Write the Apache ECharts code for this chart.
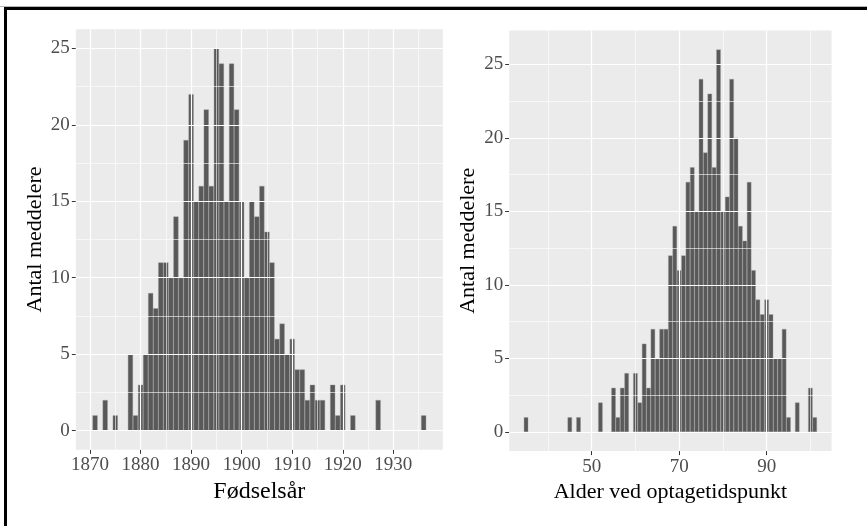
<!DOCTYPE html>
<html><head><meta charset="utf-8">
<script src="https://cdn.jsdelivr.net/npm/echarts@6/dist/echarts.min.js"></script>
<style>html,body{margin:0;padding:0;background:#fff}#c{width:867px;height:526px}</style>
</head><body><div id="c"></div>
<script>
// ---- data ----
const birthYears = [1871,1872,1873,1874,1875,1876,1877,1878,1879,1880,1881,1882,1883,1884,1885,1886,1887,1888,1889,1890,
  1891,1892,1893,1894,1895,1896,1897,1898,1899,1900,1901,1902,1903,1904,1905,1906,1907,1908,1909,1910,
  1911,1912,1913,1914,1915,1916,1917,1918,1919,1920,1921,1922,1923,1924,1925,1926,1927,1928,1929,1930,
  1931,1932,1933,1934,1935,1936];
const birthCounts = [1,0,2,0,1,0,0,5,1,3,5,9,8,11,11,10,14,10,19,22,
  15,16,21,16,25,24,15,24,21,15,10,15,14,16,13,11,6,7,5,6,
  4,4,2,3,2,2,0,3,1,3,0,1,0,0,0,0,2,0,0,0,
  0,0,0,0,0,1];
const ages = [35,36,37,38,39,40,41,42,43,44,45,46,47,48,49,50,51,52,53,54,
  55,56,57,58,59,60,61,62,63,64,65,66,67,68,69,70,71,72,73,74,
  75,76,77,78,79,80,81,82,83,84,85,86,87,88,89,90,91,92,93,94,
  95,96,97,98,99,100,101];
const ageCounts = [1,0,0,0,0,0,0,0,0,0,1,0,1,0,0,0,0,2,0,0,
  3,1,3,4,0,4,2,6,3,7,5,7,7,12,14,11,12,17,18,15,
  24,19,23,18,26,15,16,24,20,14,13,17,11,9,8,9,8,5,5,7,
  1,0,2,0,0,3,1];
const yearTicks = [1870,1880,1890,1900,1910,1920,1930];
const yearMinor = [1875,1885,1895,1905,1915,1925,1935];
const ageTicks = [50,70,90];
const ageMinor = [40,60,80,100];
const countTicks = [0,5,10,15,20,25];
const countMinor = [2.5,7.5,12.5,17.5,22.5];
const xTitleLeft = 'Fødselsår';
const xTitleRight = 'Alder ved optagetidspunkt';
const yTitle = 'Antal meddelere';

// ---- layout ----
const FONT = 'Liberation Serif';
const grids = [
  {left: 75.85, top: 29.2, width: 367, height: 420.6},
  {left: 509.2, top: 30.5, width: 322.4, height: 420.6}
];
const xRanges = [[1867.2, 1939.8], [31.15, 104.85]];
const yRanges = [[-1.25, 26.25], [-1.3, 27.3]];

function pairs(xs, ys) {
  const out = [];
  xs.forEach((x, i) => { if (ys[i] > 0) out.push([x, ys[i]]); });
  return out;
}
function gridLines(xMajor, xMinor, yMajor, yMinor) {
  const d = [];
  xMinor.forEach(v => d.push({xAxis: v, lineStyle: {width: 0.6}}));
  yMinor.forEach(v => d.push({yAxis: v, lineStyle: {width: 0.6}}));
  xMajor.forEach(v => d.push({xAxis: v, lineStyle: {width: 1.2}}));
  yMajor.forEach(v => d.push({yAxis: v, lineStyle: {width: 1.2}}));
  return d;
}
function xAxis(i, ticks, name, nameSize) {
  return {
    type: 'value', gridIndex: i, min: xRanges[i][0], max: xRanges[i][1],
    position: 'bottom',
    axisLine: {show: false, onZero: false},
    splitLine: {show: false},
    axisTick: {show: true, length: 4, customValues: ticks, lineStyle: {color: '#333', width: 1}},
    axisLabel: {show: true, customValues: ticks, margin: 6, color: '#4D4D4D', fontFamily: FONT, fontSize: 19,
      formatter: v => String(v), hideOverlap: false, showMinLabel: true, showMaxLabel: true},
    name: name, nameLocation: 'middle', nameGap: 27,
    nameTextStyle: {fontFamily: FONT, fontSize: nameSize, color: '#000'}
  };
}
function yAxis(i, name) {
  return {
    type: 'value', gridIndex: i, min: yRanges[i][0], max: yRanges[i][1],
    axisLine: {show: false, onZero: false},
    splitLine: {show: false},
    axisTick: {show: true, length: 4, customValues: countTicks, lineStyle: {color: '#333', width: 1}},
    axisLabel: {show: true, customValues: countTicks, margin: 6, color: '#4D4D4D', fontFamily: FONT, fontSize: 19,
      formatter: v => String(v)},
    name: name, nameLocation: 'middle', nameGap: 30,
    nameTextStyle: {fontFamily: FONT, fontSize: 22, color: '#000'}
  };
}
function barSeries(i, xs, ys) {
  const bw = grids[i].width / (xRanges[i][1] - xRanges[i][0]);
  return {
    type: 'bar', xAxisIndex: i, yAxisIndex: i, z: 3,
    data: pairs(xs, ys), barWidth: bw,
    itemStyle: {color: '#595959', borderColor: '#9a9a9a', borderWidth: 0.4},
    silent: true
  };
}
function gridSeries(i, xMajor, xMinor) {
  return {
    type: 'line', xAxisIndex: i, yAxisIndex: i, z: 1, data: [], silent: true,
    markLine: {silent: true, symbol: ['none', 'none'], label: {show: false},
      lineStyle: {color: '#ffffff', type: 'solid'}, animation: false,
      data: gridLines(xMajor, xMinor, countTicks, countMinor)}
  };
}

const chart = echarts.init(document.getElementById('c'), null, {renderer: 'canvas'});
chart.setOption({
  animation: false,
  backgroundColor: '#ffffff',
  grid: grids.map(g => Object.assign({show: true, backgroundColor: '#EBEBEB', borderWidth: 0, containLabel: false}, g)),
  xAxis: [xAxis(0, yearTicks, xTitleLeft, 24), xAxis(1, ageTicks, xTitleRight, 22)],
  yAxis: [yAxis(0, yTitle), yAxis(1, yTitle)],
  series: [
    gridSeries(0, yearTicks, yearMinor),
    gridSeries(1, ageTicks, ageMinor),
    barSeries(0, birthYears, birthCounts),
    barSeries(1, ages, ageCounts)
  ],
  graphic: [
    {type: 'rect', shape: {x: 0, y: 6, width: 867, height: 1}, style: {fill: '#b5b5b5'}, silent: true},
    {type: 'rect', shape: {x: 4, y: 7, width: 863, height: 3}, style: {fill: '#000'}, silent: true},
    {type: 'rect', shape: {x: 4, y: 7, width: 3, height: 519}, style: {fill: '#000'}, silent: true}
  ]
});
</script>
</body></html>
